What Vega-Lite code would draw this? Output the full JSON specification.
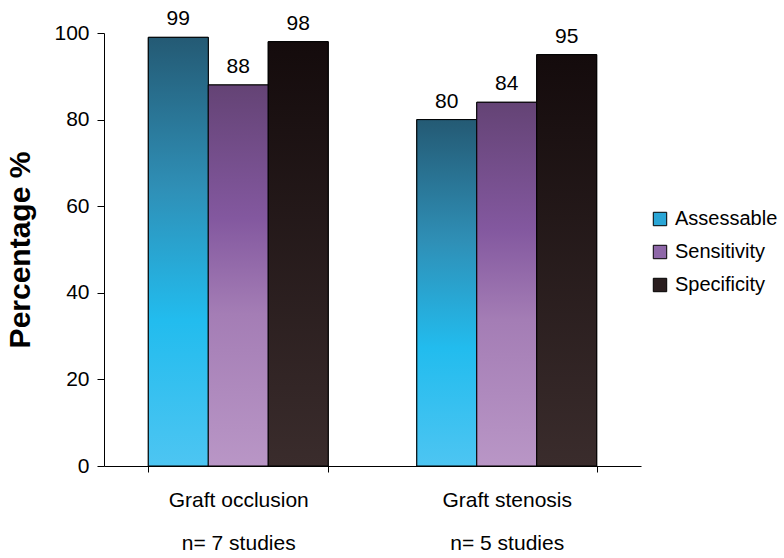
{
  "$schema": "https://vega.github.io/schema/vega-lite/v6.json",
  "width": 537,
  "height": 433,
  "autosize": {"type": "none"},
  "padding": {"left": 104, "top": 33, "right": 143, "bottom": 92},
  "background": "white",
  "data": {
    "values": [
      {"category": "Graft occlusion", "measure": "Assessable", "value": 99},
      {"category": "Graft occlusion", "measure": "Sensitivity", "value": 88},
      {"category": "Graft occlusion", "measure": "Specificity", "value": 98},
      {"category": "Graft stenosis", "measure": "Assessable", "value": 80},
      {"category": "Graft stenosis", "measure": "Sensitivity", "value": 84},
      {"category": "Graft stenosis", "measure": "Specificity", "value": 95}
    ]
  },
  "config": {
    "font": "Liberation Sans",
    "view": {"stroke": null},
    "axis": {"grid": false, "domainColor": "black", "tickColor": "black", "labelColor": "black", "titleColor": "black"}
  },
  "encoding": {
    "x": {
      "field": "category", "type": "nominal", "sort": null,
      "scale": {"paddingInner": 0.33, "paddingOuter": 0.165},
      "axis": {
        "title": null, "labelAngle": 0, "labelFontSize": 21, "labelPadding": 17,
        "tickBand": "extent", "tickSize": 6, "labelLineHeight": 43,
        "labelExpr": "datum.value == 'Graft occlusion' ? ['Graft occlusion', 'n= 7 studies'] : datum.value == 'Graft stenosis' ? ['Graft stenosis', 'n= 5 studies'] : ''"
      }
    },
    "xOffset": {"field": "measure", "type": "nominal", "scale": {"domain": ["Assessable", "Sensitivity", "Specificity"], "paddingInner": 0, "paddingOuter": 0}},
    "y": {
      "field": "value", "type": "quantitative",
      "scale": {"domain": [0, 100]},
      "axis": {"title": "Percentage %", "titleFontSize": 30, "titleFontWeight": "bold", "titlePadding": 18, "labelFontSize": 21, "values": [0, 20, 40, 60, 80, 100], "tickSize": 7, "labelPadding": 8}
    }
  },
  "layer": [
    {
      "mark": {"type": "bar", "stroke": "black", "strokeWidth": 1},
      "encoding": {
        "color": {
          "field": "measure", "type": "nominal",
          "scale": {
            "domain": ["Assessable", "Sensitivity", "Specificity"],
            "range": ["#2aa6d6", "#8e67a8", "#2a1e1f"]
          },
          "legend": {
            "title": null, "orient": "none", "legendX": 546, "legendY": 176,
            "symbolType": "square", "symbolSize": 180, "symbolStrokeColor": "black", "symbolStrokeWidth": 1,
            "labelFontSize": 20, "labelColor": "black", "rowPadding": 13, "labelOffset": 5
          }
        }
      }
    },
    {
      "transform": [{"filter": "datum.measure == 'Assessable'"}],
      "mark": {"type": "bar", "stroke": "black", "strokeWidth": 1,
        "fill": {"gradient": "linear", "x1": 0, "y1": 0, "x2": 0, "y2": 1, "stops": [
          {"offset": 0, "color": "#245a74"},
          {"offset": 0.35, "color": "#2f8fb6"},
          {"offset": 0.66, "color": "#22bcee"},
          {"offset": 1, "color": "#4dc5f2"}
        ]}}
    },
    {
      "transform": [{"filter": "datum.measure == 'Sensitivity'"}],
      "mark": {"type": "bar", "stroke": "black", "strokeWidth": 1,
        "fill": {"gradient": "linear", "x1": 0, "y1": 0, "x2": 0, "y2": 1, "stops": [
          {"offset": 0, "color": "#644375"},
          {"offset": 0.35, "color": "#83589f"},
          {"offset": 0.6, "color": "#a47db5"},
          {"offset": 1, "color": "#b996c6"}
        ]}}
    },
    {
      "transform": [{"filter": "datum.measure == 'Specificity'"}],
      "mark": {"type": "bar", "stroke": "black", "strokeWidth": 1,
        "fill": {"gradient": "linear", "x1": 0, "y1": 0, "x2": 0, "y2": 1, "stops": [
          {"offset": 0, "color": "#140b0c"},
          {"offset": 1, "color": "#3a2c2c"}
        ]}}
    },
    {
      "mark": {"type": "text", "baseline": "alphabetic", "dy": -12, "fontSize": 21, "color": "black"},
      "encoding": {"text": {"field": "value", "type": "quantitative"}}
    }
  ]
}
